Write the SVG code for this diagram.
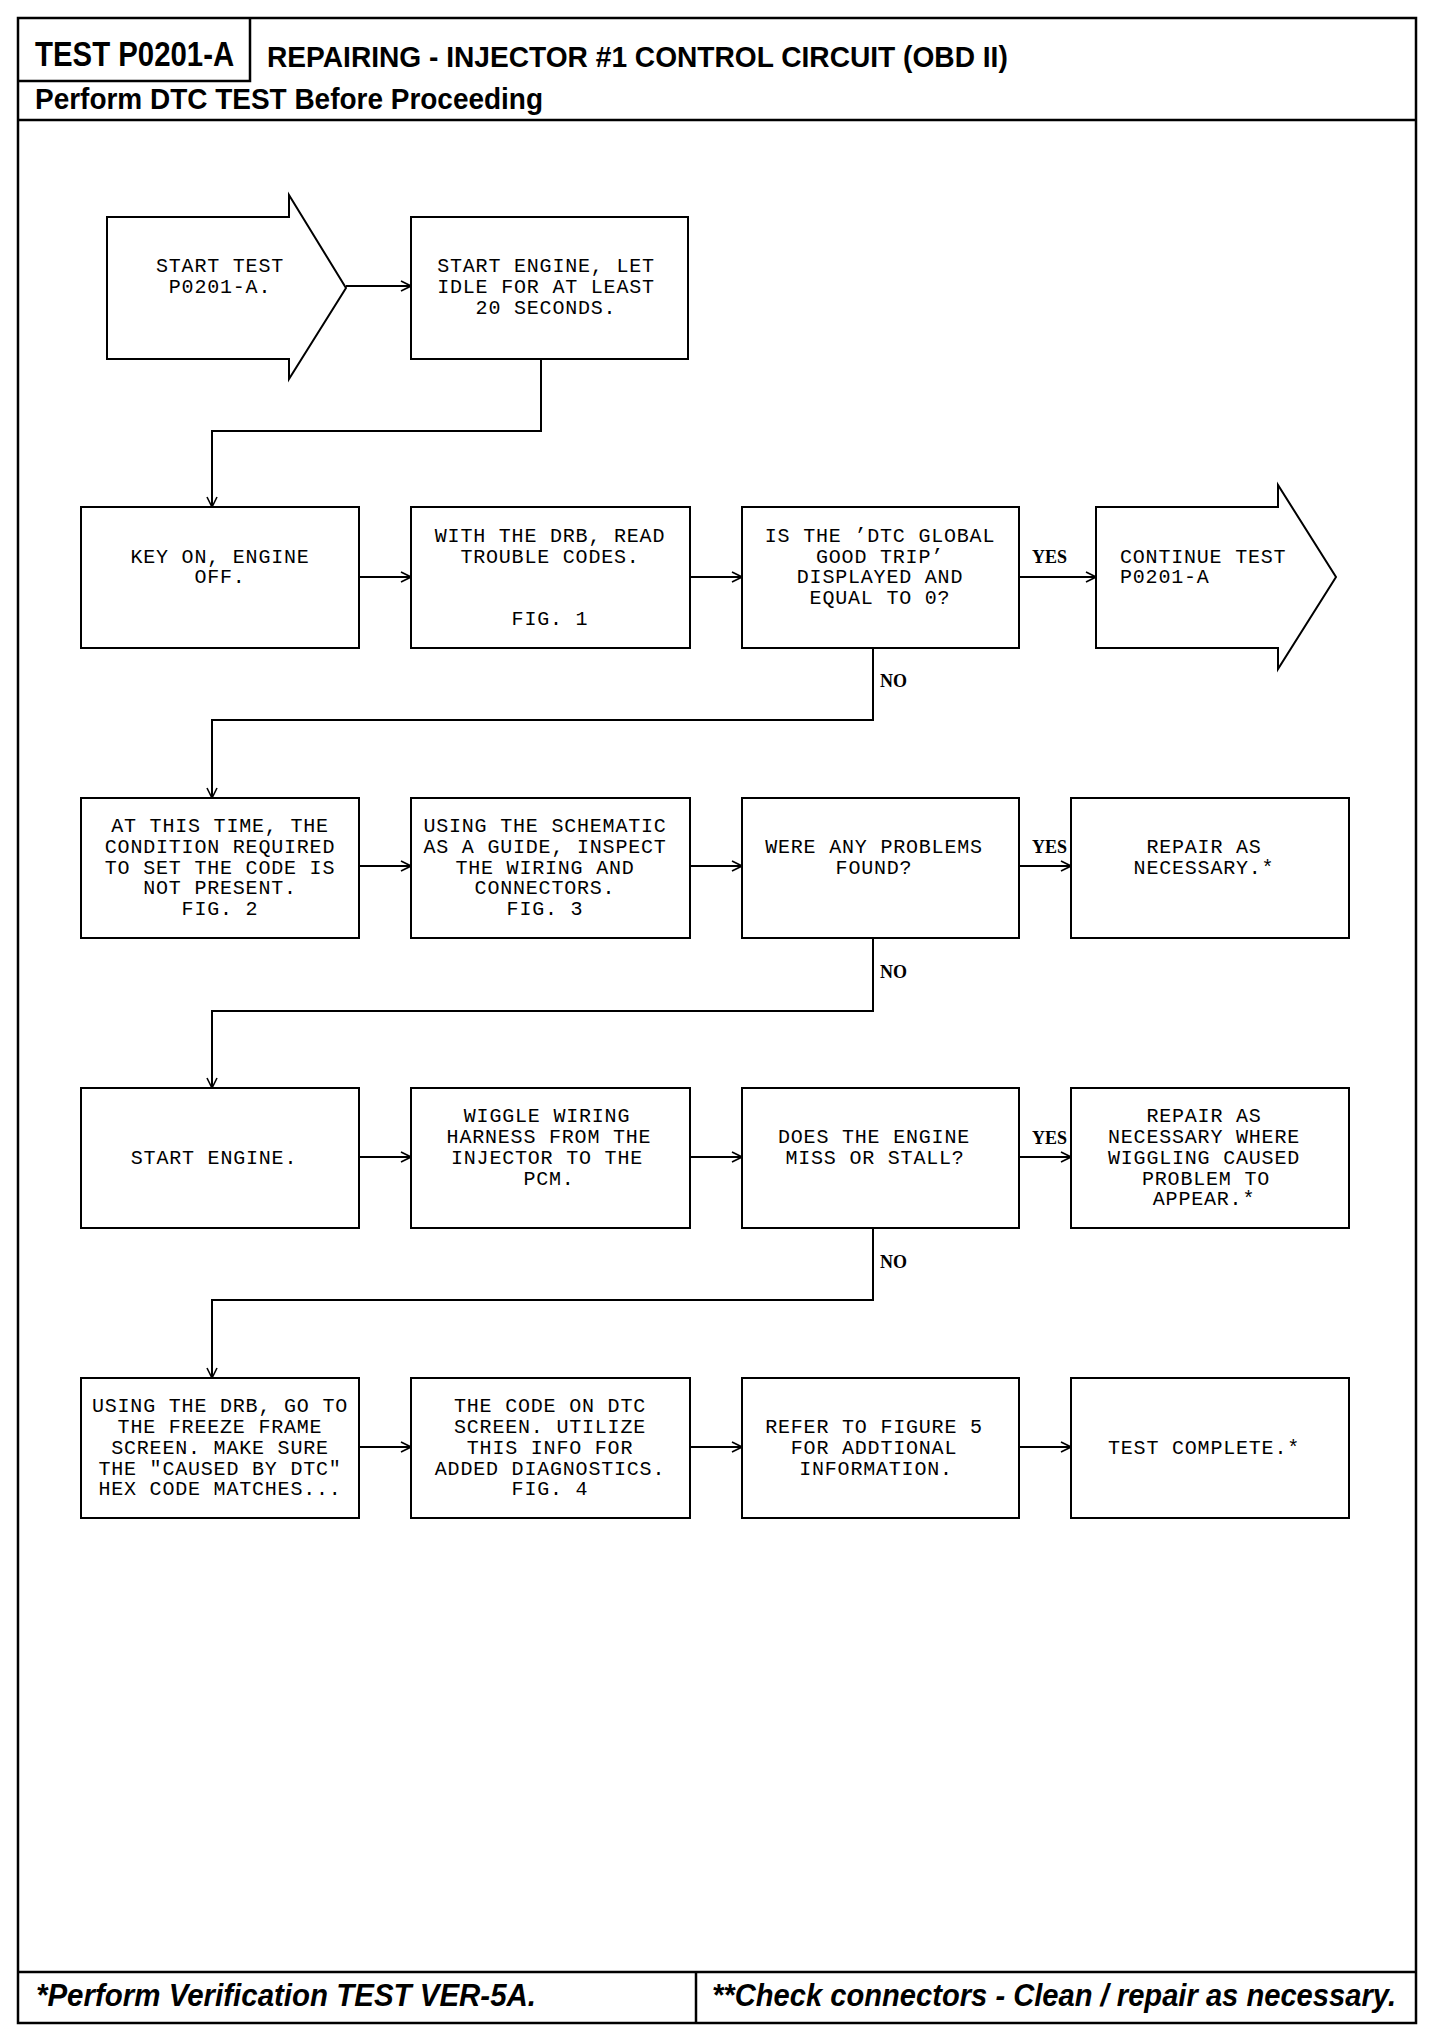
<svg xmlns="http://www.w3.org/2000/svg" width="1456" height="2040" viewBox="0 0 1456 2040">
<style>
.frame{fill:none;stroke:#000;stroke-width:2.5}
.box{fill:#fff;stroke:#000;stroke-width:2}
.t{font-family:"Liberation Mono","DejaVu Sans Mono",monospace;font-size:20px;letter-spacing:0.8px;fill:#000;text-anchor:middle}
.tl{text-anchor:start}
.lbl{font-family:"Liberation Serif","DejaVu Serif",serif;font-weight:bold;font-size:18px;fill:#000}
.hd{font-family:"Liberation Sans","Arial",sans-serif;font-weight:bold;fill:#000}
.ft{font-family:"Liberation Sans","Arial",sans-serif;font-weight:bold;font-style:italic;fill:#000}
.c{fill:none;stroke:#000;stroke-width:2}
</style>
<defs>
<marker id="ah" viewBox="0 0 12 12" refX="11" refY="6" markerWidth="12" markerHeight="12" markerUnits="userSpaceOnUse" orient="auto">
<path d="M1,1 L11,6 L1,11" fill="none" stroke="#000" stroke-width="1.6"/>
</marker>
</defs>
<rect width="1456" height="2040" fill="#fff"/>
<g id="frame">
<rect class="frame" x="18" y="18" width="1398" height="2005"/>
<path class="frame" d="M18,81 H250 V18"/>
<line class="frame" x1="18" y1="120" x2="1416" y2="120"/>
<line class="frame" x1="18" y1="1972" x2="1416" y2="1972"/>
<line class="frame" x1="696" y1="1972" x2="696" y2="2023"/>
<text class="hd" transform="translate(35,66) scale(0.8,1)" font-size="36" textLength="249" lengthAdjust="spacingAndGlyphs">TEST P0201-A</text>
<text class="hd" transform="translate(267,67) scale(0.8,1)" font-size="29" textLength="926" lengthAdjust="spacingAndGlyphs">REPAIRING - INJECTOR #1 CONTROL CIRCUIT (OBD II)</text>
<text class="hd" transform="translate(35,109) scale(0.8,1)" font-size="29" textLength="635" lengthAdjust="spacingAndGlyphs">Perform DTC TEST Before Proceeding</text>
<text class="ft" transform="translate(36,2006) scale(0.8,1)" font-size="32" textLength="625" lengthAdjust="spacingAndGlyphs">*Perform Verification TEST VER-5A.</text>
<text class="ft" transform="translate(712,2006) scale(0.8,1)" font-size="32" textLength="855" lengthAdjust="spacingAndGlyphs">**Check connectors - Clean / repair as necessary.</text>
</g>
<g id="connectors">
<line class="c" x1="346" y1="286" x2="411" y2="286" marker-end="url(#ah)"/>
<path class="c" d="M541,359 V431 H212 V507" marker-end="url(#ah)"/>
<line class="c" x1="359" y1="577" x2="411" y2="577" marker-end="url(#ah)"/>
<line class="c" x1="690" y1="577" x2="742" y2="577" marker-end="url(#ah)"/>
<line class="c" x1="1019" y1="577" x2="1096" y2="577" marker-end="url(#ah)"/>
<text class="lbl" x="1032" y="563">YES</text>
<path class="c" d="M873,648 V720 H212 V798" marker-end="url(#ah)"/>
<text class="lbl" x="880" y="687">NO</text>
<line class="c" x1="359" y1="866" x2="411" y2="866" marker-end="url(#ah)"/>
<line class="c" x1="690" y1="866" x2="742" y2="866" marker-end="url(#ah)"/>
<line class="c" x1="1019" y1="866" x2="1071" y2="866" marker-end="url(#ah)"/>
<text class="lbl" x="1032" y="853">YES</text>
<path class="c" d="M873,938 V1011 H212 V1088" marker-end="url(#ah)"/>
<text class="lbl" x="880" y="978">NO</text>
<line class="c" x1="359" y1="1157" x2="411" y2="1157" marker-end="url(#ah)"/>
<line class="c" x1="690" y1="1157" x2="742" y2="1157" marker-end="url(#ah)"/>
<line class="c" x1="1019" y1="1157" x2="1071" y2="1157" marker-end="url(#ah)"/>
<text class="lbl" x="1032" y="1144">YES</text>
<path class="c" d="M873,1228 V1300 H212 V1378" marker-end="url(#ah)"/>
<text class="lbl" x="880" y="1268">NO</text>
<line class="c" x1="359" y1="1447" x2="411" y2="1447" marker-end="url(#ah)"/>
<line class="c" x1="690" y1="1447" x2="742" y2="1447" marker-end="url(#ah)"/>
<line class="c" x1="1019" y1="1447" x2="1071" y2="1447" marker-end="url(#ah)"/>
</g>
<g id="n-start">
<path class="box" d="M107,217 H289 V195 L346,288 L289,379 V359 H107 Z"/>
<text class="t" x="220"><tspan x="220" y="272">START TEST</tspan><tspan x="220" y="293">P0201-A.</tspan></text>
</g>
<g id="n-idle">
<rect class="box" x="411" y="217" width="277" height="142"/>
<text class="t"><tspan x="546" y="272">START ENGINE, LET</tspan><tspan x="546" y="293">IDLE FOR AT LEAST</tspan><tspan x="546" y="314">20 SECONDS.</tspan></text>
</g>
<g id="n-keyon">
<rect class="box" x="81" y="507" width="278" height="141"/>
<text class="t"><tspan x="220" y="563">KEY ON, ENGINE</tspan><tspan x="220" y="583">OFF.</tspan></text>
</g>
<g id="n-read">
<rect class="box" x="411" y="507" width="279" height="141"/>
<text class="t"><tspan x="550" y="542">WITH THE DRB, READ</tspan><tspan x="550" y="563">TROUBLE CODES.</tspan><tspan x="550" y="625">FIG. 1</tspan></text>
</g>
<g id="n-global">
<rect class="box" x="742" y="507" width="277" height="141"/>
<text class="t"><tspan x="880" y="542">IS THE ’DTC GLOBAL</tspan><tspan x="880" y="563">GOOD TRIP’</tspan><tspan x="880" y="583">DISPLAYED AND</tspan><tspan x="880" y="604">EQUAL TO 0?</tspan></text>
</g>
<g id="n-continue">
<path class="box" d="M1096,507 H1278 V485 L1336,577 L1278,669 V648 H1096 Z"/>
<text class="t tl"><tspan x="1120" y="563">CONTINUE TEST</tspan><tspan x="1120" y="583">P0201-A</tspan></text>
</g>
<g id="n-condition">
<rect class="box" x="81" y="798" width="278" height="140"/>
<text class="t"><tspan x="220" y="832">AT THIS TIME, THE</tspan><tspan x="220" y="853">CONDITION REQUIRED</tspan><tspan x="220" y="874">TO SET THE CODE IS</tspan><tspan x="220" y="894">NOT PRESENT.</tspan><tspan x="220" y="915">FIG. 2</tspan></text>
</g>
<g id="n-schematic">
<rect class="box" x="411" y="798" width="279" height="140"/>
<text class="t"><tspan x="545" y="832">USING THE SCHEMATIC</tspan><tspan x="545" y="853">AS A GUIDE, INSPECT</tspan><tspan x="545" y="874">THE WIRING AND</tspan><tspan x="545" y="894">CONNECTORS.</tspan><tspan x="545" y="915">FIG. 3</tspan></text>
</g>
<g id="n-found">
<rect class="box" x="742" y="798" width="277" height="140"/>
<text class="t"><tspan x="874" y="853">WERE ANY PROBLEMS</tspan><tspan x="874" y="874">FOUND?</tspan></text>
</g>
<g id="n-repair1">
<rect class="box" x="1071" y="798" width="278" height="140"/>
<text class="t"><tspan x="1204" y="853">REPAIR AS</tspan><tspan x="1204" y="874">NECESSARY.*</tspan></text>
</g>
<g id="n-start-engine">
<rect class="box" x="81" y="1088" width="278" height="140"/>
<text class="t"><tspan x="214" y="1164">START ENGINE.</tspan></text>
</g>
<g id="n-wiggle">
<rect class="box" x="411" y="1088" width="279" height="140"/>
<text class="t"><tspan x="547" y="1122">WIGGLE WIRING</tspan><tspan x="549" y="1143">HARNESS FROM THE</tspan><tspan x="547" y="1164">INJECTOR TO THE</tspan><tspan x="549" y="1185">PCM.</tspan></text>
</g>
<g id="n-stall">
<rect class="box" x="742" y="1088" width="277" height="140"/>
<text class="t"><tspan x="874" y="1143">DOES THE ENGINE</tspan><tspan x="875" y="1164">MISS OR STALL?</tspan></text>
</g>
<g id="n-repair2">
<rect class="box" x="1071" y="1088" width="278" height="140"/>
<text class="t"><tspan x="1204" y="1122">REPAIR AS</tspan><tspan x="1204" y="1143">NECESSARY WHERE</tspan><tspan x="1204" y="1164">WIGGLING CAUSED</tspan><tspan x="1206" y="1185">PROBLEM TO</tspan><tspan x="1204" y="1205">APPEAR.*</tspan></text>
</g>
<g id="n-freeze">
<rect class="box" x="81" y="1378" width="278" height="140"/>
<text class="t"><tspan x="220" y="1412">USING THE DRB, GO TO</tspan><tspan x="220" y="1433">THE FREEZE FRAME</tspan><tspan x="220" y="1454">SCREEN. MAKE SURE</tspan><tspan x="220" y="1475">THE "CAUSED BY DTC"</tspan><tspan x="220" y="1495">HEX CODE MATCHES...</tspan></text>
</g>
<g id="n-dtc">
<rect class="box" x="411" y="1378" width="279" height="140"/>
<text class="t"><tspan x="550" y="1412">THE CODE ON DTC</tspan><tspan x="550" y="1433">SCREEN. UTILIZE</tspan><tspan x="550" y="1454">THIS INFO FOR</tspan><tspan x="550" y="1475">ADDED DIAGNOSTICS.</tspan><tspan x="550" y="1495">FIG. 4</tspan></text>
</g>
<g id="n-refer">
<rect class="box" x="742" y="1378" width="277" height="140"/>
<text class="t"><tspan x="874" y="1433">REFER TO FIGURE 5</tspan><tspan x="874" y="1454">FOR ADDTIONAL</tspan><tspan x="876" y="1475">INFORMATION.</tspan></text>
</g>
<g id="n-complete">
<rect class="box" x="1071" y="1378" width="278" height="140"/>
<text class="t"><tspan x="1204" y="1454">TEST COMPLETE.*</tspan></text>
</g>
</svg>
